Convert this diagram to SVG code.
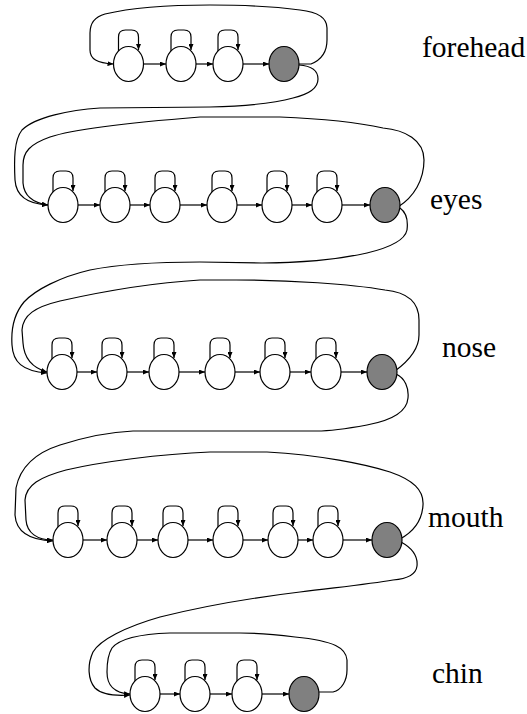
<svg xmlns="http://www.w3.org/2000/svg" xmlns:xlink="http://www.w3.org/1999/xlink" width="527" height="714" viewBox="0 0 527 714">
<style>
.ln{fill:none;stroke:#000;stroke-width:1.2}
.st{fill:#fff;stroke:#000;stroke-width:1.2}
.ex{fill:#808080;stroke:#000;stroke-width:1.2}
.lb{font-family:"Liberation Serif","Times New Roman",serif;font-size:29.5px;fill:#000}
</style>
<defs>
<marker id="ah" viewBox="0 0 6 5" refX="6" refY="2.5" markerWidth="6" markerHeight="5" markerUnits="userSpaceOnUse" orient="auto"><path d="M0,0 L6,2.5 L0,5 z" fill="#000"/></marker>
<path id="sl" class="ln" d="M-10,-13 L-10,-27 Q-10,-34 -3,-34 L3,-34 Q10,-34 10,-27 L10,-14" marker-end="url(#ah)"/>
<ellipse id="nw" class="st" cx="0" cy="0" rx="15" ry="17.5"/>
<ellipse id="ng" class="ex" cx="0" cy="0" rx="15" ry="17.5"/>
</defs>

<g id="connectors">
<!-- forehead -->
<line class="ln" x1="143.5" y1="64" x2="166" y2="64" marker-end="url(#ah)"/>
<line class="ln" x1="196" y1="64" x2="213" y2="64" marker-end="url(#ah)"/>
<line class="ln" x1="243" y1="64" x2="269" y2="64" marker-end="url(#ah)"/>
<use href="#sl" x="128.5" y="64"/><use href="#sl" x="181" y="64"/><use href="#sl" x="228" y="64"/>
<path class="ln" marker-end="url(#ah)" d="M299,64 L311,64 C321,60 327,52 327,40 L327,28 C327,18 318,12 300,10 C270,6 240,5 210,5 C170,5 130,8 105,14 C94,17 90,24 90,33 L90,50 C90,59 97,63 113.5,64"/>
<path class="ln" marker-end="url(#ah)" d="M299,65 C313,66 318,72 318,79 C318,88 310,94 293,98 C275,103 250,106 210,107 L100,108 C70,110 35,117 22,130 C14,140 14,160 15,180 C16,195 26,204 48,205"/>
<!-- eyes -->
<line class="ln" x1="78" y1="205" x2="100" y2="205" marker-end="url(#ah)"/>
<line class="ln" x1="130" y1="205" x2="150" y2="205" marker-end="url(#ah)"/>
<line class="ln" x1="180" y1="205" x2="207" y2="205" marker-end="url(#ah)"/>
<line class="ln" x1="237" y1="205" x2="262" y2="205" marker-end="url(#ah)"/>
<line class="ln" x1="292" y1="205" x2="312" y2="205" marker-end="url(#ah)"/>
<line class="ln" x1="342" y1="205" x2="370" y2="205" marker-end="url(#ah)"/>
<use href="#sl" x="63" y="205"/><use href="#sl" x="115" y="205"/><use href="#sl" x="165" y="205"/><use href="#sl" x="222" y="205"/><use href="#sl" x="277" y="205"/><use href="#sl" x="327" y="205"/>
<path class="ln" marker-end="url(#ah)" d="M398,207 C414,197 424,180 424,160 C424,140 405,130 383,128 C365,124 330,119 280,117 L200,117 C150,121 80,127 50,137 C30,144 23,152 23,165 L23,183 C24,196 34,203 48,205"/>
<path class="ln" marker-end="url(#ah)" d="M400,208 C407,213 408,222 407,230 C405,240 392,247 367,253 C335,260 300,263 262,263 L200,262 C160,262 120,264 90,270 C60,277 35,290 24,302 C14,314 11,330 12,345 C13,362 22,371 47,373"/>
<!-- nose -->
<line class="ln" x1="77" y1="372" x2="97" y2="372" marker-end="url(#ah)"/>
<line class="ln" x1="127" y1="372" x2="149" y2="372" marker-end="url(#ah)"/>
<line class="ln" x1="179" y1="372" x2="205" y2="372" marker-end="url(#ah)"/>
<line class="ln" x1="235" y1="372" x2="260" y2="372" marker-end="url(#ah)"/>
<line class="ln" x1="290" y1="372" x2="311" y2="372" marker-end="url(#ah)"/>
<line class="ln" x1="341" y1="372" x2="367" y2="372" marker-end="url(#ah)"/>
<use href="#sl" x="62" y="372"/><use href="#sl" x="112" y="372"/><use href="#sl" x="164" y="372"/><use href="#sl" x="220" y="372"/><use href="#sl" x="275" y="372"/><use href="#sl" x="326" y="372"/>
<path class="ln" marker-end="url(#ah)" d="M395,371 C410,360 419,348 419,335 L419,320 C419,300 405,292 385,290 C350,284 290,280 236,280 L200,280 C150,283 100,292 60,301 C35,307 23,315 22,330 L23,343 C24,358 33,368 47,372"/>
<path class="ln" marker-end="url(#ah)" d="M396,374 C405,378 409,388 408,398 C407,411 394,420 367,425 C345,429 330,431 317,431 L133,431 C110,432 85,437 60,445 C35,453 20,468 16,488 L15,515 C16,530 26,540 53,541"/>
<!-- mouth -->
<line class="ln" x1="83" y1="540" x2="107" y2="540" marker-end="url(#ah)"/>
<line class="ln" x1="137" y1="540" x2="158" y2="540" marker-end="url(#ah)"/>
<line class="ln" x1="188" y1="540" x2="213" y2="540" marker-end="url(#ah)"/>
<line class="ln" x1="243" y1="540" x2="268" y2="540" marker-end="url(#ah)"/>
<line class="ln" x1="298" y1="540" x2="313" y2="540" marker-end="url(#ah)"/>
<line class="ln" x1="343" y1="540" x2="372" y2="540" marker-end="url(#ah)"/>
<use href="#sl" x="68" y="540"/><use href="#sl" x="122" y="540"/><use href="#sl" x="173" y="540"/><use href="#sl" x="228" y="540"/><use href="#sl" x="283" y="540"/><use href="#sl" x="328" y="540"/>
<path class="ln" marker-end="url(#ah)" d="M400,539 C413,532 422,522 423,505 C424,490 413,480 390,472 C365,464 320,455 267,452 L210,452 C160,454 100,462 66,470 C40,477 26,485 25,500 L26,520 C27,533 37,540 53,540"/>
<path class="ln" marker-end="url(#ah)" d="M401,542 C412,548 418,556 417,566 C416,575 405,579 393,580 C370,584 340,587 300,592 C250,598 200,607 160,617 C125,627 100,640 93,652 C87,665 88,680 95,688 C102,695 115,696 130,695"/>
<!-- chin -->
<line class="ln" x1="160" y1="694" x2="180" y2="694" marker-end="url(#ah)"/>
<line class="ln" x1="210" y1="694" x2="232" y2="694" marker-end="url(#ah)"/>
<line class="ln" x1="262" y1="694" x2="289" y2="694" marker-end="url(#ah)"/>
<use href="#sl" x="145" y="694"/><use href="#sl" x="195" y="694"/><use href="#sl" x="247" y="694"/>
<path class="ln" marker-end="url(#ah)" d="M319,692 L333,692 C342,690 347,680 347,670 L347,660 C346,648 335,641 295,637 C270,634 250,633 240,633 L170,633 C140,634 120,638 112,648 C107,656 107,666 107,672 C107,685 113,693 130,694"/>
</g>

<g id="forehead-1"><use href="#nw" x="128.5" y="64"/></g>
<g id="forehead-2"><use href="#nw" x="181" y="64"/></g>
<g id="forehead-3"><use href="#nw" x="228" y="64"/></g>
<g id="forehead-exit"><use href="#ng" x="284" y="64"/></g>

<g id="eyes-1"><use href="#nw" x="63" y="205"/></g>
<g id="eyes-2"><use href="#nw" x="115" y="205"/></g>
<g id="eyes-3"><use href="#nw" x="165" y="205"/></g>
<g id="eyes-4"><use href="#nw" x="222" y="205"/></g>
<g id="eyes-5"><use href="#nw" x="277" y="205"/></g>
<g id="eyes-6"><use href="#nw" x="327" y="205"/></g>
<g id="eyes-exit"><use href="#ng" x="385" y="205"/></g>

<g id="nose-1"><use href="#nw" x="62" y="372"/></g>
<g id="nose-2"><use href="#nw" x="112" y="372"/></g>
<g id="nose-3"><use href="#nw" x="164" y="372"/></g>
<g id="nose-4"><use href="#nw" x="220" y="372"/></g>
<g id="nose-5"><use href="#nw" x="275" y="372"/></g>
<g id="nose-6"><use href="#nw" x="326" y="372"/></g>
<g id="nose-exit"><use href="#ng" x="382" y="372"/></g>

<g id="mouth-1"><use href="#nw" x="68" y="540"/></g>
<g id="mouth-2"><use href="#nw" x="122" y="540"/></g>
<g id="mouth-3"><use href="#nw" x="173" y="540"/></g>
<g id="mouth-4"><use href="#nw" x="228" y="540"/></g>
<g id="mouth-5"><use href="#nw" x="283" y="540"/></g>
<g id="mouth-6"><use href="#nw" x="328" y="540"/></g>
<g id="mouth-exit"><use href="#ng" x="387" y="540"/></g>

<g id="chin-1"><use href="#nw" x="145" y="694"/></g>
<g id="chin-2"><use href="#nw" x="195" y="694"/></g>
<g id="chin-3"><use href="#nw" x="247" y="694"/></g>
<g id="chin-exit"><use href="#ng" x="304" y="694"/></g>

<g id="labels">
<text class="lb" x="422" y="57">forehead</text>
<text class="lb" x="430" y="209">eyes</text>
<text class="lb" x="442" y="357">nose</text>
<text class="lb" x="428" y="527">mouth</text>
<text class="lb" x="432" y="683">chin</text>
</g>
</svg>
